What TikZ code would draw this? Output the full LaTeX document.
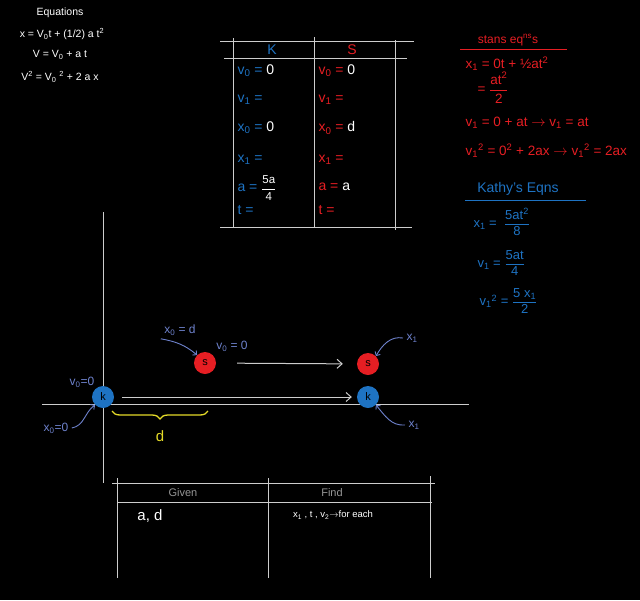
\documentclass[tikz,border=0pt]{standalone}
\usepackage{fontspec}
\setmainfont{Liberation Sans}
\usetikzlibrary{arrows.meta,decorations.pathreplacing}
\definecolor{kblue}{RGB}{30,115,195}
\definecolor{sred}{RGB}{230,30,35}
\definecolor{lbl}{RGB}{110,130,205}
\definecolor{gline}{RGB}{205,205,205}
\definecolor{ylw}{RGB}{228,218,40}
\definecolor{gtxt}{RGB}{150,150,150}
\newcommand{\fr}[2]{$\displaystyle\frac{\mbox{#1}}{\mbox{#2}}$}
\tikzset{
  tline/.style={gline, line width=0.9pt},
  eqtxt/.style={text=white, font=\fontsize{10.5}{12}\selectfont},
  kt/.style={text=kblue, anchor=west, font=\fontsize{14}{16}\selectfont},
  st/.style={text=sred, anchor=west, font=\fontsize{14}{16}\selectfont},
  rt/.style={text=sred, anchor=west, font=\fontsize{13.5}{15}\selectfont},
  bt/.style={text=kblue, anchor=west, font=\fontsize{13}{15}\selectfont},
  lb/.style={text=lbl, font=\fontsize{12}{14}\selectfont},
  ball/.style={circle, minimum size=22pt, inner sep=0pt, text=black, font=\fontsize{11}{12}\selectfont},
  kball/.style={ball, fill=kblue},
  sball/.style={ball, fill=sred},
  arr/.style={gline, line width=1pt, -{Straight Barb[length=5pt,width=9pt]}},
  larr/.style={lbl, line width=0.9pt, -{Straight Barb[length=3pt,width=6pt]}},
}
\begin{document}
\begin{tikzpicture}[x=1pt,y=-1pt]
\fill[black] (0,0) rectangle (640,600);
\useasboundingbox (0,0) rectangle (640,600);

% Equations block
\node[eqtxt] (eqh) at (60,13) {Equations};
\node[eqtxt] (eq1) at (62,34) {x = V\textsubscript{0}t + (1/2) a t\textsuperscript{2}};
\node[eqtxt] (eq2) at (60,55) {V = V\textsubscript{0} + a t};
\node[eqtxt] (eq3) at (60,77) {V\textsuperscript{2} = V\textsubscript{0} \textsuperscript{2} + 2 a x};

% K / S table
\draw[tline] (220,41) -- (414,41);
\draw[tline] (224,58) -- (407,58);
\draw[tline] (220,227) -- (412,227);
\draw[tline] (233,38) -- (233,228);
\draw[tline] (314,37) -- (314,227);
\draw[tline] (395,40) -- (395,230);
\node[text=kblue, font=\fontsize{14}{16}\selectfont] (hk) at (272,50) {K};
\node[text=sred, font=\fontsize{14}{16}\selectfont] (hs) at (352,50) {S};

\node[kt] (k1) at (234,71) {v\textsubscript{0} = \textcolor{white}{0}};
\node[kt] (k2) at (234,100) {v\textsubscript{1} =};
\node[kt] (k3) at (234,128) {x\textsubscript{0} = \textcolor{white}{0}};
\node[kt] (k4) at (234,160) {x\textsubscript{1} =};
\node[kt] (k5) at (234,188) {a = \textcolor{white}{\fontsize{11.5}{12}\selectfont\fr{5a}{4}}};
\node[kt] (k6) at (234,210) {t =};

\node[st] (s1) at (315,71) {v\textsubscript{0} = \textcolor{white}{0}};
\node[st] (s2) at (315,100) {v\textsubscript{1} =};
\node[st] (s3) at (315,128) {x\textsubscript{0} = \textcolor{white}{d}};
\node[st] (s4) at (315,160) {x\textsubscript{1} =};
\node[st] (s5) at (315,187) {a = \textcolor{white}{a}};
\node[st] (s6) at (315,210) {t =};

% Stan's equations
\node[text=sred, font=\fontsize{12}{14}\selectfont] (stt) at (508,40) {stans eq\textsuperscript{ns}s};
\draw[sred, line width=1pt] (460,49) -- (567,49);
\node[rt] (r1) at (462,64) {x\textsubscript{1} = 0t + ½at\textsuperscript{2}};
\node[rt] (r2) at (474,88) {= \fr{at\textsuperscript{2}}{2}};
\node[rt] (r3) at (462,123) {v\textsubscript{1} = 0 + at $\rightarrow$ v\textsubscript{1} = at};
\node[rt] (r4) at (462,151) {v\textsubscript{1}\textsuperscript{2} = 0\textsuperscript{2} + 2ax $\rightarrow$ v\textsubscript{1}\textsuperscript{2} = 2ax};

% Kathy's equations
\node[text=kblue, font=\fontsize{14}{16}\selectfont] (kth) at (518,189) {Kathy's Eqns};
\draw[kblue, line width=1pt] (465,200) -- (586,200);
\node[bt] (b1) at (470,222) {x\textsubscript{1} = \ \fr{5at\textsuperscript{2}}{8}};
\node[bt] (b2) at (474,263) {v\textsubscript{1} = \fr{5at}{4}};
\node[bt] (b3) at (476,301) {v\textsubscript{1}\textsuperscript{2} = \fr{5 x\textsubscript{1}}{2}};

% axes
\draw[tline] (103,212) -- (103,483);
\draw[tline] (42,404) -- (469,404);

% balls
\node[kball] (ka) at (103,397) {k};
\node[sball] (sa) at (205,363) {s};
\node[sball] (sb) at (368,364) {s};
\node[kball] (kb) at (368,397) {k};
\draw[arr, shorten <=8pt, shorten >=5pt] (ka) -- (kb);
\draw[arr, shorten <=21pt, shorten >=14pt] (sa) -- (sb);

% labels near balls
\node[lb] (lkv) at (82,382) {v\textsubscript{0}=0};
\node[lb] (lkx) at (56,428) {x\textsubscript{0}=0};
\draw[larr] (lkx.east) to[out=10,in=215] (ka.south west);
\node[lb] (lsx) at (180,330) {x\textsubscript{0} = d};
\draw[larr] (lsx.south west) to[out=-10,in=140] (sa.north west);
\node[lb] (lsv) at (232,346) {v\textsubscript{0} = 0};
\node[lb] (lx1a) at (412,338) {x\textsubscript{1}};
\draw[larr] (lx1a.west) to[out=170,in=60] (sb.north east);
\node[lb] (lx1b) at (414,425) {x\textsubscript{1}};
\draw[larr] (lx1b.west) to[out=185,in=-50] (kb.south east);

% brace
\coordinate (bl) at (112,411);
\coordinate (br) at (208,411);
\draw[ylw, line width=1.3pt, decorate, decoration={brace, mirror, amplitude=8pt}] (bl) -- (br);
\node[text=ylw, font=\fontsize{15}{17}\selectfont] (dl) at (160,436) {d};

% Given / Find table
\draw[tline] (112,483) -- (435,483);
\draw[tline] (118,502) -- (432,502);
\draw[tline] (117,478) -- (117,578);
\draw[tline] (268,478) -- (268,578);
\draw[tline] (430,476) -- (430,578);
\node[text=gtxt, font=\fontsize{11}{13}\selectfont] (gv) at (183,493) {Given};
\node[text=gtxt, font=\fontsize{11}{13}\selectfont] (fd) at (332,493) {Find};
\node[text=white, font=\fontsize{15}{17}\selectfont] (ad) at (150,516) {a, d};
\node[text=white, font=\fontsize{9.5}{10}\selectfont] (xs) at (333,515) {x\textsubscript{1} , t , v\textsubscript{2}$\rightarrow$for each};
\end{tikzpicture}
\end{document}
